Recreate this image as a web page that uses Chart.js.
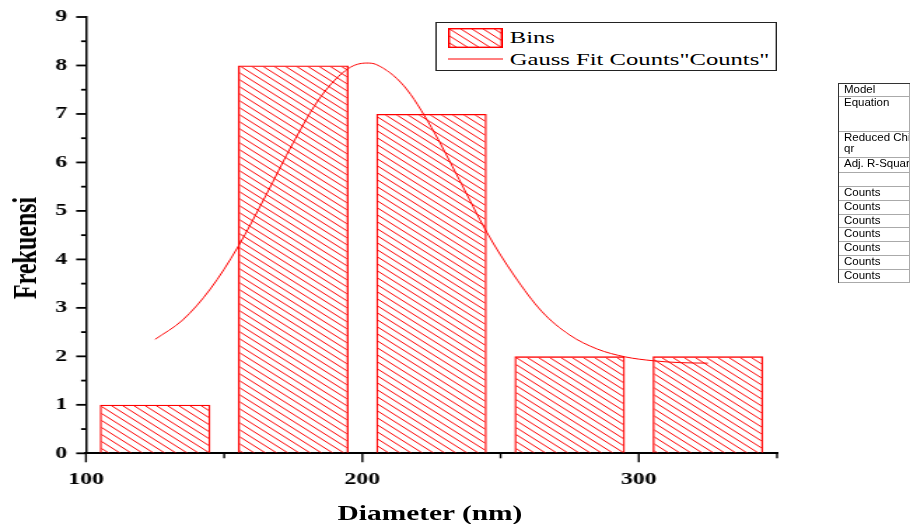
<!DOCTYPE html>
<html><head><meta charset="utf-8">
<script src="https://cdn.jsdelivr.net/npm/chart.js@4.4.1/dist/chart.umd.min.js"></script>
<style>
html,body{margin:0;padding:0;background:#fff;overflow:hidden;}
#page{position:relative;width:910px;height:524px;overflow:hidden;background:#fff;}
#stage{position:absolute;left:0;top:0;width:650px;height:524px;transform:scaleX(1.4);transform-origin:0 0;}
#c{position:absolute;left:0;top:0;}
.serif{font-family:"Liberation Serif","Times New Roman",Times,serif;color:#000;white-space:nowrap;}
#legend{position:absolute;left:310.7px;top:22px;width:244.3px;height:49px;border:1px solid #222;box-sizing:border-box;background:#fff;}
#legend .t{position:absolute;left:52.4px;font-size:17.6px;line-height:20px;}
#sw{position:absolute;left:8.4px;top:4.7px;}
#lnc{position:absolute;left:8.4px;top:34px;}
#ytitle{position:absolute;left:17.9px;top:248px;font-size:24px;font-weight:bold;line-height:24px;transform:translate(-50%,-50%) rotate(-90deg);}
#xtitle{position:absolute;left:307.1px;top:513px;font-size:21px;font-weight:bold;line-height:21px;transform:translate(-50%,-50%);}
#tbl{position:absolute;left:838px;top:83px;width:120px;border-left:1px solid #333;border-top:1px solid #333;font-family:"Liberation Sans",Arial,sans-serif;font-size:11.5px;color:#000;}
#tbl .row{position:relative;border-bottom:1px solid #aaa;box-sizing:border-box;}
#tbl .c1{position:absolute;left:0;top:0;width:71px;height:100%;border-right:1px solid #aaa;overflow:hidden;padding:0 0 0 5px;box-sizing:border-box;white-space:nowrap;line-height:11px;}
</style></head>
<body>
<div id="page">
 <div id="stage">
  <canvas id="c" width="650" height="524"></canvas>
  <div id="legend" class="serif">
   <canvas id="sw" width="39" height="20"></canvas>
   <span class="t" id="lg0" style="top:4.4px"></span>
   <canvas id="lnc" width="39" height="4"></canvas>
   <span class="t" id="lg1" style="top:26.4px"></span>
  </div>
  <div id="ytitle" class="serif">Frekuensi</div>
  <div id="xtitle" class="serif">Diameter (nm)</div>
 </div>
 <div id="tbl"></div>
</div>
<script>
// ---- data ----
const binCenters = [125, 175, 225, 275, 325];
const binCounts  = [1, 8, 7, 2, 2];
const fitX = [125, 135, 145, 155, 165, 175, 185, 195, 201.5, 205, 215, 225, 235, 245, 255, 265, 275, 285, 295, 305, 315, 325];
const fitY = [2.35, 2.75, 3.39, 4.26, 5.31, 6.41, 7.36, 7.94, 8.05, 8.02, 7.58, 6.72, 5.65, 4.56, 3.66, 2.92, 2.44, 2.15, 1.99, 1.91, 1.87, 1.86];
const xMajorTicks = [100, 200, 300];
const xMinorTicks = [150, 250, 350];
const yMajorTicks = [0, 1, 2, 3, 4, 5, 6, 7, 8, 9];
const yMinorTicks = [0.5, 1.5, 2.5, 3.5, 4.5, 5.5, 6.5, 7.5, 8.5];
const legendLabels = ['Bins', 'Gauss Fit Counts"Counts"'];
const tableLabels = ['Model', 'Equation', 'Reduced Chi-S\nqr', 'Adj. R-Square', '', 'Counts', 'Counts', 'Counts', 'Counts', 'Counts', 'Counts', 'Counts'];

// ---- hatch pattern ----
function makeHatch(ctx){
  const W = 8, H = 7;
  const c = document.createElement('canvas'); c.width = W; c.height = H;
  const g = c.getContext('2d');
  g.strokeStyle = '#ff0000'; g.lineWidth = 1;
  g.beginPath();
  for (let k = -1; k <= 1; k++) { g.moveTo(0, k*H); g.lineTo(W, (k+1)*H); }
  g.stroke();
  return ctx.createPattern(c, 'repeat');
}
const ctx = document.getElementById('c').getContext('2d');
const hatch = makeHatch(ctx);

// legend
document.getElementById('lg0').textContent = legendLabels[0];
document.getElementById('lg1').textContent = legendLabels[1];
(function(){
  const s = document.getElementById('sw'); const g = s.getContext('2d');
  g.fillStyle = makeHatch(g); g.fillRect(0,0,s.width,s.height);
  g.strokeStyle = '#ff0000'; g.lineWidth = 1.4; g.strokeRect(0.7,0.7,s.width-1.4,s.height-1.4);
  const l = document.getElementById('lnc'); const h = l.getContext('2d');
  h.strokeStyle = '#ff0000'; h.lineWidth = 1; h.beginPath(); h.moveTo(0, 2); h.lineTo(39, 2); h.stroke();
})();

// table
(function(){
  const heights = [13, 35, 25.5, 15, 14.3, 14, 14, 13.6, 13.7, 14, 13.6, 13];
  const t = document.getElementById('tbl');
  tableLabels.forEach((lab, i) => {
    const r = document.createElement('div'); r.className = 'row'; r.style.height = heights[i] + 'px';
    const c = document.createElement('div'); c.className = 'c1';
    c.innerHTML = lab.split('\n').map(s => s.replace(/&/g,'&amp;').replace(/</g,'&lt;')).join('<br>');
    r.appendChild(c); t.appendChild(r);
  });
})();

// custom tick marks (major + minor) drawn via the chart's scales
const tickMarks = {
  id: 'tickMarks',
  afterDraw(chart){
    const {ctx, chartArea: a, scales: {x, y}} = chart;
    ctx.save(); ctx.strokeStyle = '#000';
    ctx.lineWidth = 1.4;
    const dx = (v, len) => { const p = x.getPixelForValue(v); ctx.beginPath(); ctx.moveTo(p, a.bottom); ctx.lineTo(p, a.bottom + len); ctx.stroke(); };
    xMajorTicks.forEach(v => dx(v, 9)); xMinorTicks.forEach(v => dx(v, 5));
    ctx.lineWidth = 1.8;
    const dy = (v, len) => { const p = y.getPixelForValue(v); ctx.beginPath(); ctx.moveTo(a.left, p); ctx.lineTo(a.left - len, p); ctx.stroke(); };
    yMajorTicks.forEach(v => dy(v, 7)); yMinorTicks.forEach(v => dy(v, 3.5));
    ctx.restore();
  }
};

const tickFont = {family: '"Liberation Serif", "Times New Roman", serif', size: 17, weight: 'bold'};

new Chart(ctx, {
  type: 'bar',
  data: {
    datasets: [
      {
        type: 'line', label: legendLabels[1],
        data: fitX.map((x, i) => ({x, y: fitY[i]})),
        borderColor: '#ff0000', borderWidth: 1, pointRadius: 0,
        cubicInterpolationMode: 'monotone', fill: false, order: 0
      },
      {
        type: 'bar', label: legendLabels[0],
        data: binCenters.map((x, i) => ({x, y: binCounts[i]})),
        backgroundColor: hatch, borderColor: '#ff0000', borderWidth: 1.3,
        barPercentage: 0.8, categoryPercentage: 1, order: 1
      }
    ]
  },
  options: {
    responsive: false, animation: false, devicePixelRatio: 1,
    layout: {padding: {top: 17, right: 95, left: 0, bottom: 0}},
    plugins: {legend: {display: false}, tooltip: {enabled: false}},
    scales: {
      x: {
        type: 'linear', min: 100, max: 350, offset: false,
        afterBuildTicks: s => { s.ticks = xMajorTicks.map(v => ({value: v})); },
        afterFit: s => { s.height = 70.7; },
        grid: {display: true, drawOnChartArea: false, drawTicks: true, tickLength: 9, color: 'rgba(0,0,0,0)'},
        border: {display: true, color: '#000', width: 2},
        ticks: {color: '#000', font: tickFont, padding: 7, maxRotation: 0, autoSkip: false}
      },
      y: {
        type: 'linear', min: 0, max: 9,
        afterBuildTicks: s => { s.ticks = yMajorTicks.map(v => ({value: v})); },
        afterFit: s => { s.width = 61.4; },
        grid: {display: true, drawOnChartArea: false, drawTicks: true, tickLength: 7, color: 'rgba(0,0,0,0)'},
        border: {display: true, color: '#000', width: 1.5},
        ticks: {color: '#000', font: tickFont, padding: 6.5, autoSkip: false}
      }
    }
  },
  plugins: [tickMarks]
});
</script>
</body></html>
